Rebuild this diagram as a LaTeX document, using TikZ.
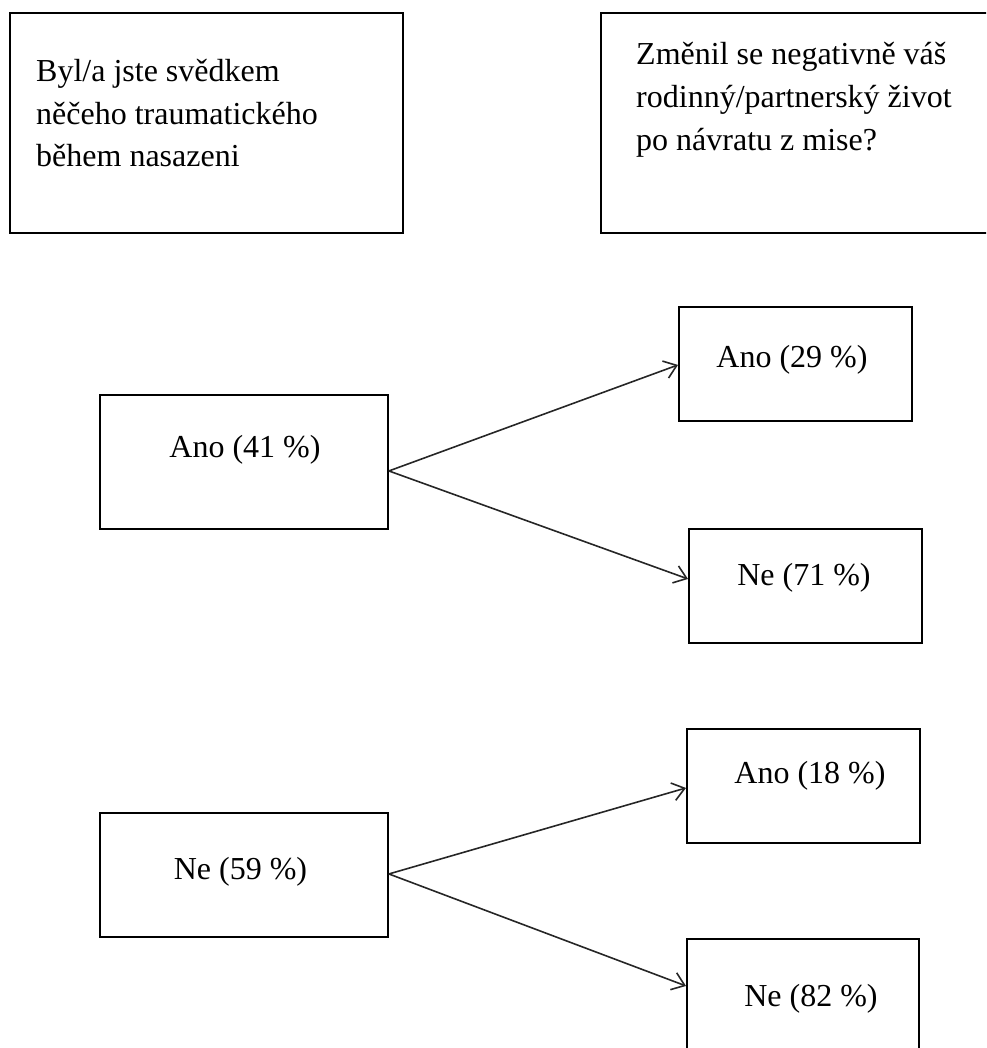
\documentclass[tikz,border=0pt]{standalone}
\usepackage{fontspec}
\setmainfont{Liberation Serif}
\usetikzlibrary{arrows.meta}

\begin{document}
\begin{tikzpicture}[x=1pt, y=-1pt,
  box/.style={draw=black, line width=1.9pt, inner sep=0pt, anchor=north west},
  lbl/.style={inner sep=0pt, text=black, font=\fontsize{32}{42.5}\selectfont},
  link/.style={line width=1.6pt, draw=black!85,
    -{Straight Barb[length=12pt, width=18pt, line width=1.6pt]}}
]
\useasboundingbox (0,0) rectangle (986,1048);
\clip (0,0) rectangle (986,1048);

% question boxes
\node[box, minimum width=393pt, minimum height=220pt] (q1) at (9,12) {};
\node[box, minimum width=400pt, minimum height=220pt] (q2) at (600,12) {};

\node[lbl, anchor=base west] (q1a) at (36,82)    {Byl/a jste svědkem};
\node[lbl, anchor=base west] (q1b) at (36,124.5) {něčeho traumatického};
\node[lbl, anchor=base west] (q1c) at (36,167)   {během nasazeni};

\node[lbl, anchor=base west] (q2a) at (636,65)  {Změnil se negativně váš};
\node[lbl, anchor=base west] (q2b) at (636,108) {rodinný/partnerský život};
\node[lbl, anchor=base west] (q2c) at (636,151) {po návratu z mise?};

% first-level answers
\node[box, minimum width=288pt, minimum height=134pt] (a41) at (99,394) {};
\node[box, minimum width=288pt, minimum height=124pt] (n59) at (99,812) {};
\node[lbl, anchor=base] (a41t) at (245,457)   {Ano (41 \%)};
\node[lbl, anchor=base] (n59t) at (240.5,879) {Ne (59 \%)};

% second-level answers
\node[box, minimum width=233pt, minimum height=114pt] (a29) at (678,306) {};
\node[box, minimum width=233pt, minimum height=114pt] (n71) at (688,528) {};
\node[box, minimum width=233pt, minimum height=114pt] (a18) at (686,728) {};
\node[box, minimum width=232pt, minimum height=114pt] (n82) at (686,938) {};
\node[lbl, anchor=base] (a29t) at (792,367)  {Ano (29 \%)};
\node[lbl, anchor=base] (n71t) at (804,585)  {Ne (71 \%)};
\node[lbl, anchor=base] (a18t) at (810,783)  {Ano (18 \%)};
\node[lbl, anchor=base] (n82t) at (811,1006) {Ne (82 \%)};

% branches
\draw[link] ([yshift=-9pt]a41.east) -- ([yshift=-1pt]a29.west);
\draw[link] ([yshift=-9pt]a41.east) -- ([yshift=7pt]n71.west);
\draw[link] ([yshift=1pt]n59.east) -- ([yshift=-2pt]a18.west);
\draw[link] ([yshift=1pt]n59.east) -- ([yshift=10pt]n82.west);
\end{tikzpicture}
\end{document}
